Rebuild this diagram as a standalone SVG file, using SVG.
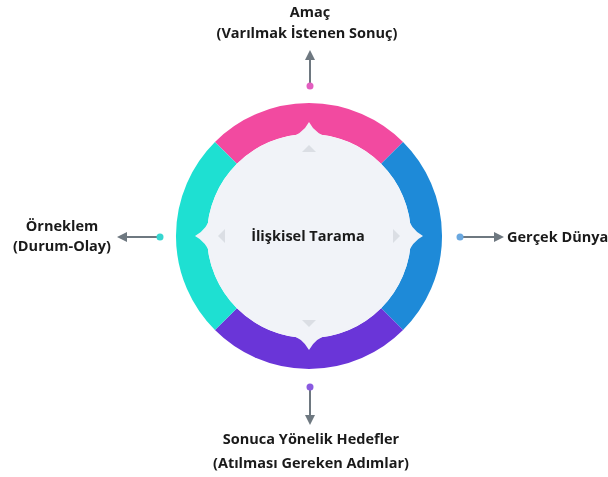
<svg xmlns="http://www.w3.org/2000/svg" width="608" height="477" viewBox="0 0 608 477">
<style>
.lbl{font-family:"Open Sans",Lato,"Liberation Sans",sans-serif;font-weight:bold;font-size:14.5px;fill:#1a1a1a;text-anchor:middle}
.seg{fill:none;stroke-width:31}
.conn{stroke:#6e7880;stroke-width:2;fill:none}
.inner{fill:#f1f3f8}
.chev{fill:#d6d9df;opacity:0.8}
</style>
<defs>
<marker id="ah" viewBox="0 0 10 10" refX="8" refY="5" markerWidth="5" markerHeight="5" orient="auto">
<path d="M0,0 L10,5 L0,10 Z" fill="#6e7880"/>
</marker>
</defs>
<rect width="608" height="477" fill="#ffffff"/>
<g id="center">
<path class="seg" stroke="#f24aa0" d="M225.9,152.9 A117.5,117.5 0 0 1 392.1,152.9"/>
<path class="seg" stroke="#1e8ad8" d="M392.1,152.9 A117.5,117.5 0 0 1 392.1,319.1"/>
<path class="seg" stroke="#6a35d8" d="M392.1,319.1 A117.5,117.5 0 0 1 225.9,319.1"/>
<path class="seg" stroke="#1ee0d2" d="M225.9,319.1 A117.5,117.5 0 0 1 225.9,152.9"/>
<circle class="inner" cx="309" cy="236" r="102"/>
<g class="inner">
<path d="M285,140 Q303,134 309,122 Q315,134 333,140 Z"/>
<path d="M285,140 Q303,134 309,122 Q315,134 333,140 Z" transform="rotate(90 309 236)"/>
<path d="M285,140 Q303,134 309,122 Q315,134 333,140 Z" transform="rotate(180 309 236)"/>
<path d="M285,140 Q303,134 309,122 Q315,134 333,140 Z" transform="rotate(270 309 236)"/>
</g>
<g class="chev">
<path d="M302,152 L309,145 L316,152 Z"/>
<path d="M302,152 L309,145 L316,152 Z" transform="rotate(90 309 236)"/>
<path d="M302,152 L309,145 L316,152 Z" transform="rotate(180 309 236)"/>
<path d="M302,152 L309,145 L316,152 Z" transform="rotate(270 309 236)"/>
</g>
<text class="lbl" x="308" y="241">İlişkisel Tarama</text>
</g>
<g id="connectors">
<line class="conn" x1="310" y1="86" x2="310" y2="52" marker-end="url(#ah)"/>
<line class="conn" x1="160" y1="237" x2="119" y2="237" marker-end="url(#ah)"/>
<line class="conn" x1="460" y1="237" x2="502" y2="237" marker-end="url(#ah)"/>
<line class="conn" x1="310" y1="387" x2="310" y2="423" marker-end="url(#ah)"/>
<circle cx="310" cy="86" r="3.5" fill="#e35ec0"/>
<circle cx="160" cy="237" r="3.5" fill="#36d6d0"/>
<circle cx="460" cy="237" r="3.5" fill="#6aa8e0"/>
<circle cx="310" cy="387" r="3.5" fill="#8a5ae0"/>
</g>
<g id="amac">
<text class="lbl" x="310" y="17">Amaç</text>
<text class="lbl" x="307" y="38">(Varılmak İstenen Sonuç)</text>
</g>
<g id="orneklem">
<text class="lbl" x="62" y="231">Örneklem</text>
<text class="lbl" x="62" y="251">(Durum-Olay)</text>
</g>
<g id="gercek">
<text class="lbl" x="507" y="242" style="text-anchor:start">Gerçek Dünya</text>
</g>
<g id="hedefler">
<text class="lbl" x="311" y="444">Sonuca Yönelik Hedefler</text>
<text class="lbl" x="311" y="468">(Atılması Gereken Adımlar)</text>
</g>
</svg>
